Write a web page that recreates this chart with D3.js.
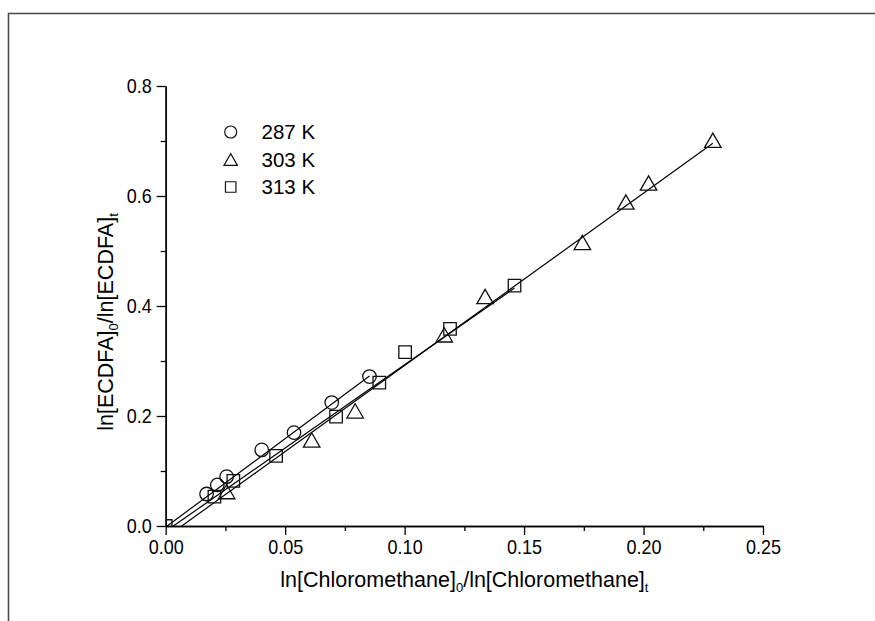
<!DOCTYPE html>
<html>
<head>
<meta charset="utf-8">
<script src="https://cdn.jsdelivr.net/npm/d3@7"></script>
<style>
  html, body { margin: 0; padding: 0; background: #fff; }
  svg { display: block; }
  text { font-family: "Liberation Sans", Arial, sans-serif; fill: #000; }
</style>
</head>
<body>
<svg id="chart" width="875" height="621"></svg>
<script>
// Series: x = ln[Chloromethane]0/ln[Chloromethane]t, y = ln[ECDFA]0/ln[ECDFA]t
const seriesNames = ["287 K", "303 K", "313 K"];
const seriesSymbols = ["circle", "triangle", "square"];

const x287 = [0.0171, 0.0216, 0.0255, 0.0402, 0.0537, 0.0695, 0.0853];
const y287 = [0.0582, 0.0746, 0.0897, 0.1383, 0.1698, 0.2244, 0.2717];

const x303 = [0.0255, 0.0611, 0.0793, 0.1166, 0.1337, 0.1744, 0.1926, 0.2021, 0.2290];
const y303 = [0.0625, 0.1565, 0.2093, 0.3475, 0.4172, 0.5156, 0.5890, 0.6236, 0.7013];

const x313 = [0.0000, 0.0204, 0.0283, 0.0462, 0.0713, 0.0894, 0.1002, 0.1190, 0.1460];
const y313 = [0.0000, 0.0533, 0.0819, 0.1274, 0.1989, 0.2608, 0.3161, 0.3584, 0.4370];

// Linear fits per temperature: y = slope * x + intercept, drawn over [0, xEnd]
const fitSlopes = [3.22, 3.131, 3.03];
const fitIntercepts = [-0.002, -0.021, -0.0097];
const fitXEnd = [0.0853, 0.2290, 0.1460];

const xTickValues = [0, 0.05, 0.10, 0.15, 0.20, 0.25];
const xMinorTicks = [0.025, 0.075, 0.125, 0.175, 0.225];
const yTickValues = [0, 0.2, 0.4, 0.6, 0.8];
const yMinorTicks = [0.1, 0.3, 0.5, 0.7];

const xTitle = "ln[Chloromethane]";
const yTitle = "ln[ECDFA]";

const svg = d3.select("#chart");

// outer frame (top and left edges)
svg.append("path")
  .attr("d", "M8.5,621 L8.5,13.5 L875,13.5")
  .attr("fill", "none").attr("stroke", "#4a4a4a").attr("stroke-width", 1.6);

const plot = { left: 165.7, right: 763, top: 86, bottom: 526 };
const x = d3.scaleLinear().domain([0, 0.25]).range([plot.left, plot.right]);
const y = d3.scaleLinear().domain([0, 0.8]).range([plot.bottom, plot.top]);

svg.append("defs").append("clipPath").attr("id", "plotClip")
  .append("rect")
  .attr("x", plot.left).attr("y", plot.top)
  .attr("width", plot.right - plot.left).attr("height", plot.bottom - plot.top);

// axes
const narrow = 0.9; // horizontal squeeze of the tick label glyphs
const xAxis = d3.axisBottom(x).tickValues(xTickValues).tickFormat(d3.format(".2f"))
  .tickSize(9).tickSizeOuter(0).tickPadding(5);
const xAxisMinor = d3.axisBottom(x).tickValues(xMinorTicks).tickFormat("")
  .tickSize(5).tickSizeOuter(0);
const yAxis = d3.axisLeft(y).tickValues(yTickValues).tickFormat(d3.format(".1f"))
  .tickSize(9).tickSizeOuter(0).tickPadding(5);
const yAxisMinor = d3.axisLeft(y).tickValues(yMinorTicks).tickFormat("")
  .tickSize(5).tickSizeOuter(0);

function styleAxis(g) {
  g.selectAll("path.domain").attr("stroke", "#000").attr("stroke-width", 1.4);
  g.selectAll(".tick line").attr("stroke", "#000").attr("stroke-width", 1.3);
  g.selectAll(".tick text").attr("font-size", "20px")
    .attr("font-family", "'Liberation Sans', Arial, sans-serif").attr("fill", "#000")
    .attr("transform", `scale(${narrow},1)`);
}

svg.append("g").attr("transform", `translate(0,${plot.bottom})`).call(xAxisMinor).call(styleAxis);
svg.append("g").attr("transform", `translate(0,${plot.bottom})`).call(xAxis).call(styleAxis);
svg.append("g").attr("transform", `translate(${plot.left},0)`).call(yAxisMinor).call(styleAxis);
const yAxisG = svg.append("g").attr("transform", `translate(${plot.left},0)`).call(yAxis).call(styleAxis);
yAxisG.selectAll(".tick text").attr("x", -14 / narrow);

// axis titles with subscripts
const xt = svg.append("text")
  .attr("x", (plot.left + plot.right) / 2).attr("y", 587)
  .attr("text-anchor", "middle").attr("font-size", "21.5px");
xt.append("tspan").text(xTitle);
xt.append("tspan").attr("font-size", "13px").attr("dy", 5).text("0");
xt.append("tspan").attr("dy", -5).text("/" + xTitle);
xt.append("tspan").attr("font-size", "13px").attr("dy", 5).text("t");

const yt = svg.append("text")
  .attr("transform", `translate(113,${(plot.top + plot.bottom) / 2 + 16}) rotate(-90)`)
  .attr("text-anchor", "middle").attr("font-size", "21.5px");
yt.append("tspan").text(yTitle);
yt.append("tspan").attr("font-size", "13px").attr("dy", 5).text("0");
yt.append("tspan").attr("dy", -5).text("/" + yTitle);
yt.append("tspan").attr("font-size", "13px").attr("dy", 5).text("t");

// symbol path generators, sized in pixels
function symbolPath(kind, s) {
  if (kind === "circle") {
    const r = s / 2;
    return `M${-r},0 A${r},${r} 0 1,0 ${r},0 A${r},${r} 0 1,0 ${-r},0 Z`;
  }
  if (kind === "square") {
    const h = s / 2;
    return `M${-h},${-h} H${h} V${h} H${-h} Z`;
  }
  // triangle: width s, equilateral, centred on its bounding box
  const w = s / 2, hgt = s * 0.866;
  return `M0,${-hgt / 2} L${w},${hgt / 2} L${-w},${hgt / 2} Z`;
}
const plotSizes = { circle: 13.5, triangle: 16.5, square: 12.5 };
const legendSizes = { circle: 12, triangle: 13.5, square: 10.5 };

const plotArea = svg.append("g").attr("clip-path", "url(#plotClip)");

// fit lines
const fits = fitSlopes.map((m, i) => [
  [0, fitIntercepts[i]],
  [fitXEnd[i], m * fitXEnd[i] + fitIntercepts[i]]
]);
const line = d3.line().x(d => x(d[0])).y(d => y(d[1]));
plotArea.selectAll("path.fit").data(fits).join("path")
  .attr("class", "fit")
  .attr("d", line)
  .attr("fill", "none").attr("stroke", "#000").attr("stroke-width", 1.2);

// data markers
const series = [
  { xs: x287, ys: y287 },
  { xs: x303, ys: y303 },
  { xs: x313, ys: y313 }
];
series.forEach((s, i) => {
  const kind = seriesSymbols[i];
  const pts = s.xs.map((v, j) => [v, s.ys[j]]);
  plotArea.selectAll(null).data(pts).join("path")
    .attr("transform", d => `translate(${x(d[0])},${y(d[1])})`)
    .attr("d", symbolPath(kind, plotSizes[kind]))
    .attr("fill", "none").attr("stroke", "#111").attr("stroke-width", 1.3);
});

// legend
const legend = svg.append("g");
const legendRows = [132, 159.5, 187];
seriesNames.forEach((name, i) => {
  const kind = seriesSymbols[i];
  legend.append("path")
    .attr("transform", `translate(230.7,${legendRows[i]})`)
    .attr("d", symbolPath(kind, legendSizes[kind]))
    .attr("fill", "none").attr("stroke", "#111").attr("stroke-width", 1.2);
  legend.append("text")
    .attr("x", 261.5).attr("y", legendRows[i]).attr("dy", "0.36em")
    .attr("font-size", "20.5px").text(name);
});
</script>
</body>
</html>
